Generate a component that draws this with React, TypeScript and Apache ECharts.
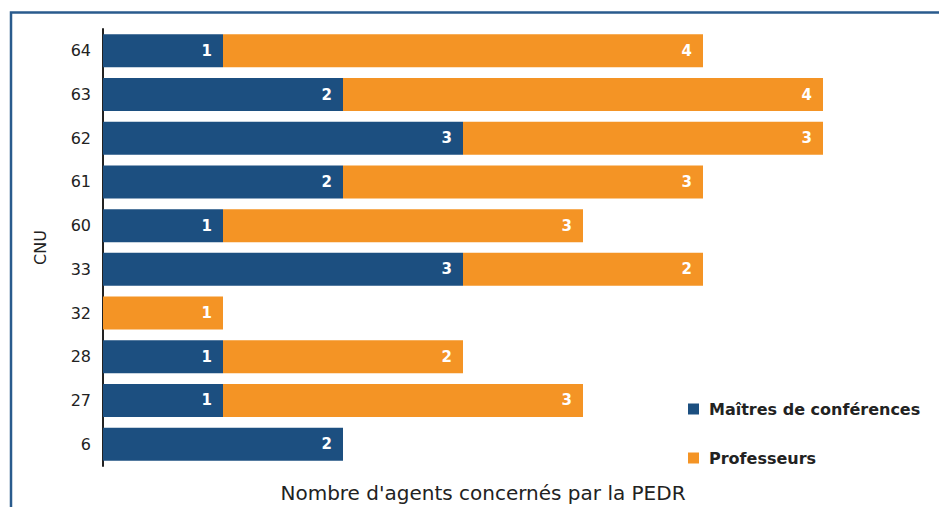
import React, { useEffect, useRef } from "react";
import * as echarts from "echarts";

const categories = ["6", "27", "28", "32", "33", "60", "61", "62", "63", "64"];
const maitres = [2, 1, 1, null, 3, 1, 2, 3, 2, 1];
const professeurs = [null, 3, 2, 1, 2, 3, 3, 3, 4, 4];
const seriesNames = ["Maîtres de conférences", "Professeurs"];
const xAxisName = "Nombre d'agents concernés par la PEDR";
const yAxisName = "CNU";

const FONT = "'DejaVu Sans', sans-serif";

export default function App() {
  const ref = useRef<HTMLDivElement>(null);
  useEffect(() => {
    if (!ref.current) return;
    const chart = echarts.init(ref.current, undefined, { renderer: "svg" });
    const label = {
      show: true,
      position: "insideRight",
      distance: 11,
      color: "#ffffff",
      fontWeight: "bold",
      fontSize: 15,
      fontFamily: FONT,
    };
    chart.setOption({
      animation: false,
      backgroundColor: "#ffffff",
      textStyle: { fontFamily: FONT },
      grid: {
        left: 103,
        top: 29,
        width: 720,
        height: 437,
        containLabel: false,
        outerBoundsMode: "none",
      },
      legend: {
        orient: "vertical",
        left: 683,
        top: 396,
        itemGap: 33,
        itemWidth: 11,
        itemHeight: 11,
        icon: "rect",
        textStyle: {
          fontSize: 16,
          fontWeight: "bold",
          color: "#222",
          fontFamily: FONT,
          padding: [0, 0, 0, 5],
        },
        data: seriesNames,
      },
      xAxis: {
        type: "value",
        min: 0,
        max: 6,
        show: true,
        axisLine: { show: false },
        axisTick: { show: false },
        axisLabel: { show: false },
        splitLine: { show: false },
        name: xAxisName,
        nameLocation: "middle",
        nameGap: 17,
        nameTextStyle: {
          fontSize: 20,
          color: "#222",
          fontFamily: FONT,
          verticalAlign: "top",
          padding: [0, 0, 0, 40],
        },
      },
      yAxis: {
        type: "category",
        data: categories,
        axisLine: { show: true, lineStyle: { color: "#222", width: 2 } },
        axisTick: { show: false },
        axisLabel: { fontSize: 16, color: "#222", margin: 12, fontFamily: FONT },
        name: yAxisName,
        nameLocation: "middle",
        nameRotate: 90,
        nameGap: 55,
        nameTextStyle: { fontSize: 16, color: "#222", fontFamily: FONT },
      },
      series: [
        {
          name: seriesNames[0],
          type: "bar",
          stack: "total",
          data: maitres,
          barWidth: 33,
          itemStyle: { color: "#1c4f80" },
          label,
        },
        {
          name: seriesNames[1],
          type: "bar",
          stack: "total",
          data: professeurs,
          barWidth: 33,
          itemStyle: { color: "#f49425" },
          label,
        },
      ],
      graphic: [
        {
          type: "rect",
          shape: { x: 11, y: 12.5, width: 1000, height: 600 },
          style: { fill: "none", stroke: "#2a5b8d", lineWidth: 2.5 },
          silent: true,
        },
      ],
    });
    return () => chart.dispose();
  }, []);
  return (
    <div
      ref={ref}
      style={{ position: "fixed", left: 0, top: 0, width: 939, height: 507 }}
    />
  );
}
